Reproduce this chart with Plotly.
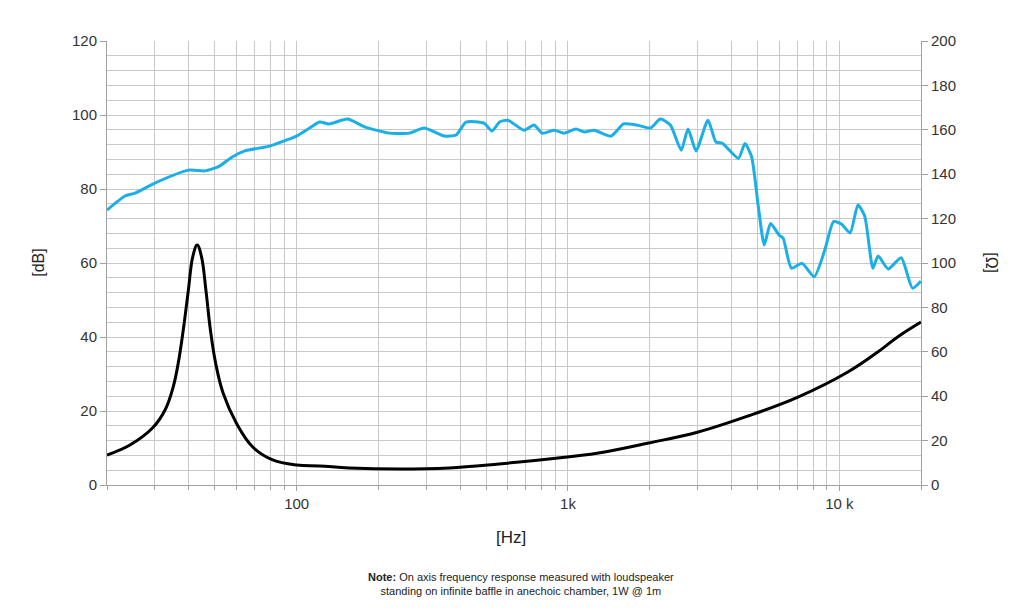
import numpy as np
import plotly.graph_objects as go

# SPL response (left axis, dB)
spl_freq = [20, 23.3, 25.4, 30, 40, 45.9, 52, 57.7, 64.4, 79.6, 90, 100, 111.6, 121.5, 132, 154, 178,
            220, 260, 295, 350, 387, 421, 490, 525, 560, 600, 689, 750, 803, 889, 967, 1070, 1150,
            1250, 1440, 1604, 1790, 2013, 2190, 2384, 2614, 2770, 2965, 3280, 3510, 3700, 4247,
            4490, 4750, 5030, 5290, 5580, 5990, 6210, 6660, 7290, 8080, 8840, 9530, 10200, 10960,
            11710, 12400, 13300, 13900, 15140, 16900, 18600, 20000]
spl_db = [74.3, 78.1, 78.9, 81.6, 85.1, 84.9, 86.2, 88.6, 90.3, 91.6, 93.0, 94.3, 96.5, 98.1, 97.6, 98.9, 96.8,
          95.1, 95.1, 96.5, 94.3, 94.6, 98.1, 97.8, 95.7, 98.1, 98.6, 95.9, 97.3, 95.1, 95.9, 95.1, 96.2, 95.4,
          95.9, 94.3, 97.6, 97.3, 96.5, 98.9, 97.3, 90.5, 96.2, 90.3, 98.6, 92.7, 92.4, 88.3,
          92.3, 88.7, 75.2, 64.9, 70.7, 67.6, 66.7, 58.6, 59.9, 56.3, 63.5, 71.2, 70.5, 68.1,
          75.7, 72.7, 58.6, 61.9, 58.4, 61.4, 53.2, 55.1]

# Impedance (right axis, ohm)
imp_freq = [20, 24.3, 29.6, 32.8, 35.1, 36.6, 38.2, 39.9, 41.4, 43.0, 44.6, 46.3, 48.1, 50.3, 53.6,
            60.0, 68.9, 81.6, 100, 121.5, 156, 239, 365, 557, 850, 1295, 1980, 3020, 4610, 7040, 10750,
            13850, 16400, 20000]
imp_ohm = [13.5, 18.0, 26.0, 34.0, 44.3, 54.8, 69.8, 87.8, 102.8, 108.1, 102.8, 87.8, 69.8, 54.8, 41.3,
           27.8, 17.1, 11.3, 9.0, 8.6, 7.7, 7.2, 7.7, 9.5, 11.7, 14.4, 18.9, 23.9, 31.1, 39.6, 50.9,
           59.9, 66.7, 73.4]

x_ticks = [100, 1000, 10000]
x_ticktext = ["100", "1k", "10 k"]
x_minor = [m * d for d in (10, 100, 1000) for m in range(2, 10)] + [20000]

FONT = "Liberation Sans, Arial, sans-serif"
GRID = "#c8c8c8"
AXIS = "#a0a0a0"

fig = go.Figure()
fig.add_trace(go.Scatter(x=spl_freq, y=spl_db, mode="lines", line=dict(color="#1aafe6", width=3, shape="spline", smoothing=0.6),
                         showlegend=False, hoverinfo="skip"))
fig.add_trace(go.Scatter(x=imp_freq, y=imp_ohm, yaxis="y2", mode="lines",
                         line=dict(color="#000000", width=3, shape="spline", smoothing=1.1),
                         showlegend=False, hoverinfo="skip"))

fig.update_layout(
    width=1024, height=612,
    margin=dict(l=107, r=103, t=41, b=127),
    paper_bgcolor="white", plot_bgcolor="white",
    font=dict(family=FONT, color="#333333", size=14),
    xaxis=dict(type="log", range=[np.log10(20), np.log10(20000)],
               tickmode="array", tickvals=x_ticks, ticktext=x_ticktext,
               showgrid=True, gridcolor=GRID, gridwidth=1,
               minor=dict(tickmode="array", tickvals=x_minor, showgrid=True, gridcolor=GRID, gridwidth=1,
                          ticks="outside", ticklen=4, tickcolor=AXIS),
               ticks="outside", ticklen=5, tickcolor=AXIS,
               showline=True, linecolor=AXIS, linewidth=1,
               tickfont=dict(size=15, color="#333333"), zeroline=False),
    yaxis=dict(range=[0, 120], tickmode="linear", tick0=0, dtick=20,
               showgrid=True, gridcolor=GRID, gridwidth=1,
               minor=dict(dtick=4, showgrid=True, gridcolor=GRID, gridwidth=1),
               ticks="outside", ticklen=6, tickcolor=AXIS,
               showline=True, linecolor=AXIS, linewidth=1,
               tickfont=dict(size=15, color="#333333"), zeroline=False),
    yaxis2=dict(range=[0, 200], tickmode="linear", tick0=0, dtick=20, overlaying="y", side="right",
                showgrid=False, ticks="outside", ticklen=6, tickcolor=AXIS,
                showline=True, linecolor=AXIS, linewidth=1,
                tickfont=dict(size=15, color="#333333"), zeroline=False),
)

fig.add_annotation(text="[dB]", xref="paper", yref="paper", x=-0.085, y=0.5, showarrow=False,
                   textangle=-90, font=dict(size=16, color="#222222"), xanchor="center", yanchor="middle")
fig.add_annotation(text="[Ω]", xref="paper", yref="paper", x=1.087, y=0.5, showarrow=False,
                   textangle=90, font=dict(size=16, color="#222222"), xanchor="center", yanchor="middle")
fig.add_annotation(text="[Hz]", xref="paper", yref="paper", x=0.496, y=-0.118, showarrow=False,
                   font=dict(size=17, color="#222222"), xanchor="center", yanchor="middle")
fig.add_annotation(text="<b>Note:</b> On axis frequency response measured with loudspeaker<br>standing on infinite baffle in anechoic chamber, 1W @ 1m",
                   xref="paper", yref="paper", x=0.508, y=-0.222, showarrow=False, align="center",
                   font=dict(size=11, color="#222222"), xanchor="center", yanchor="middle")

fig.write_html("out.html")
